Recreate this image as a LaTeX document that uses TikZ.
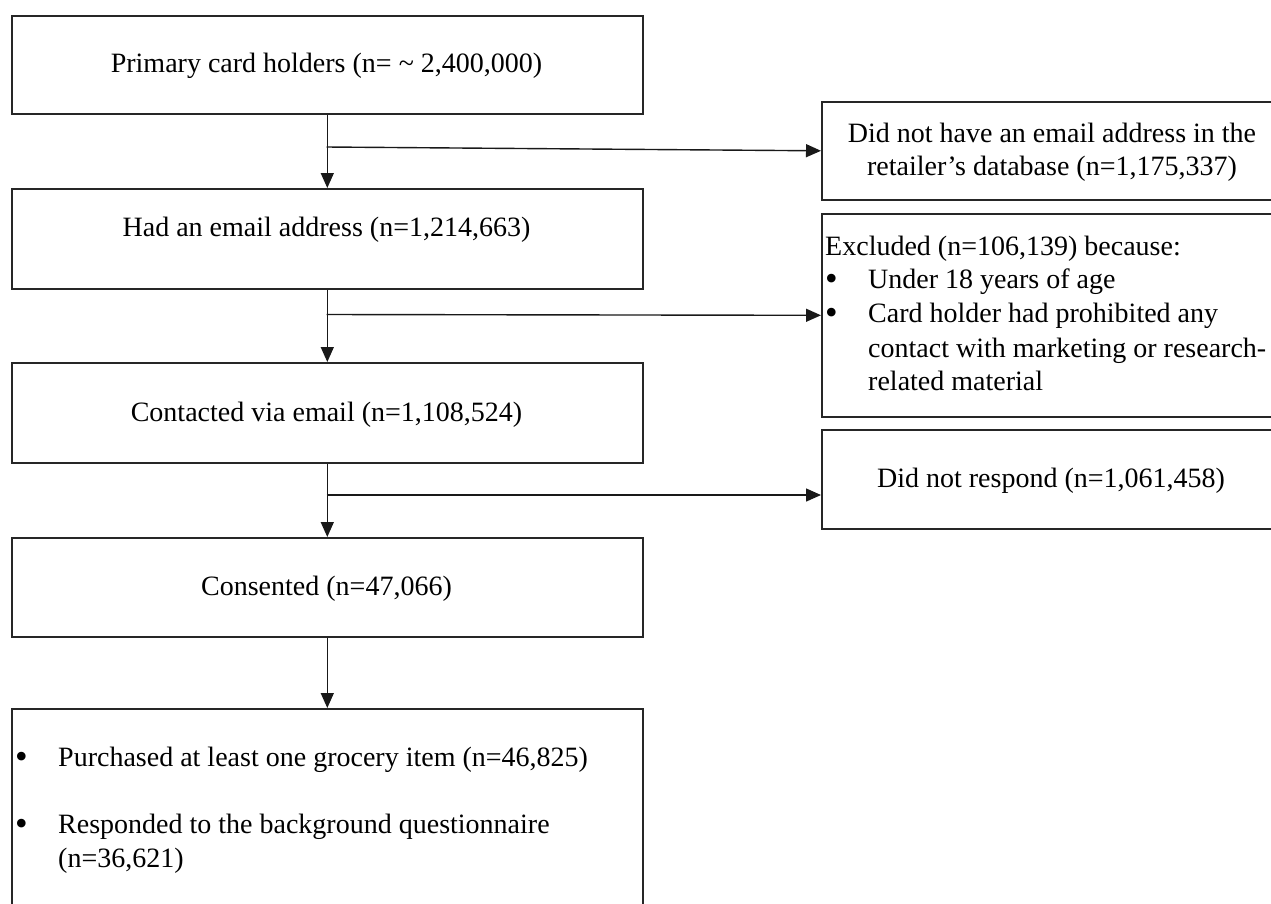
\documentclass[tikz,border=0pt]{standalone}
\usepackage{fontspec}
\setmainfont{Liberation Serif}
\usetikzlibrary{arrows.meta}
\begin{document}
\begin{tikzpicture}[x=1pt,y=-1pt,
  box/.style={draw=black!85, line width=1.6pt, rectangle, anchor=north west, inner sep=0pt},
  txt/.style={font=\fontsize{28}{34}\selectfont, inner sep=0pt, text=black},
  bul/.style={font=\fontsize{36}{36}\selectfont, inner sep=0pt, text=black, anchor=base west},
  arr/.style={line width=1.4pt, draw=black!90, -{Triangle[length=15pt,width=13pt]}}]
\useasboundingbox (0,0) rectangle (1271,903);
\clip (0,0) rectangle (1271,903);
% left column boxes
\node[box, minimum width=631pt, minimum height=98pt]  (A) at (11,15)  {};
\node[box, minimum width=631pt, minimum height=100pt] (B) at (11,188) {};
\node[box, minimum width=631pt, minimum height=100pt] (C) at (11,362) {};
\node[box, minimum width=631pt, minimum height=99pt]  (D) at (11,537) {};
\node[box, minimum width=631pt, minimum height=230pt] (E) at (11,708) {};
% right column boxes
\node[box, minimum width=463pt, minimum height=98pt]  (R1) at (821,101) {};
\node[box, minimum width=463pt, minimum height=203pt] (R2) at (821,213) {};
\node[box, minimum width=463pt, minimum height=99pt]  (R3) at (821,429) {};
% texts
\node[txt, anchor=base] (tA) at (326.5,72)  {Primary card holders (n= \char"007E{} 2,400,000)};
\node[txt, anchor=base] (tB) at (326.5,236) {Had an email address (n=1,214,663)};
\node[txt, anchor=base] (tC) at (326.5,421) {Contacted via email (n=1,108,524)};
\node[txt, anchor=base] (tD) at (326.5,595) {Consented (n=47,066)};
\node[txt, anchor=base] (tR1a) at (1052,142) {Did not have an email address in the};
\node[txt, anchor=base] (tR1b) at (1052,175) {retailer’s database (n=1,175,337)};
\node[txt, anchor=base west] (tR2a) at (825,255) {Excluded (n=106,139) because:};
\node[bul] (bR2a) at (825,290) {•};
\node[txt, anchor=base west] (tR2b) at (868,288) {Under 18 years of age};
\node[bul] (bR2b) at (825,324) {•};
\node[txt, anchor=base west] (tR2c) at (868,322) {Card holder had prohibited any};
\node[txt, anchor=base west] (tR2d) at (868,357) {contact with marketing or research-};
\node[txt, anchor=base west] (tR2e) at (868,390) {related material};
\node[txt, anchor=base] (tR3) at (1051,487) {Did not respond (n=1,061,458)};
\node[bul] (bE1) at (15,768) {•};
\node[txt, anchor=base west] (tE1) at (58,766) {Purchased at least one grocery item (n=46,825)};
\node[bul] (bE2) at (15,835) {•};
\node[txt, anchor=base west] (tE2) at (58,833) {Responded to the background questionnaire};
\node[txt, anchor=base west] (tE3) at (58,867) {(n=36,621)};
% connectors
\coordinate (j1) at (326.5,147);
\coordinate (j2) at (326.5,314.5);
\coordinate (j3) at (326.5,495);
\draw[arr] (A.south) -- (B.north);
\draw[arr] (B.south) -- (C.north);
\draw[arr] (C.south) -- (D.north);
\draw[arr] (D.south) -- (E.north);
\draw[arr] (j1) -- (R1.west);
\draw[arr] (j2) -- (R2.west);
\draw[arr] (j3) -- (j3 -| R3.west);
\end{tikzpicture}
\end{document}
